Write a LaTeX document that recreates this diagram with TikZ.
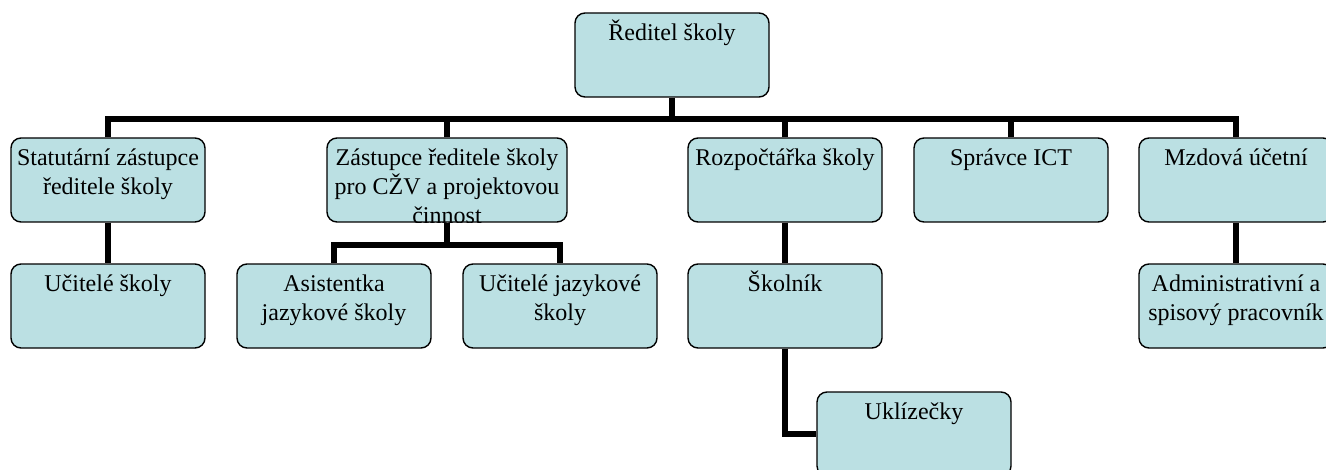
\documentclass[tikz,border=0pt]{standalone}
\usepackage{fontspec}
\setmainfont{Liberation Serif}
\definecolor{boxfill}{RGB}{187,224,227}
\tikzset{
  orgbox/.style={rectangle, draw, line width=0.7pt, fill=boxfill, rounded corners=5pt,
    minimum height=42pt, inner sep=0pt},
  orgtext/.style={anchor=north, inner sep=0pt, yshift=-2pt, align=center,
    font=\fontsize{12}{14.5}\selectfont},
  conn/.style={line width=3pt}
}
\newcommand\orgbox[5][97pt]{%
  \node[orgbox, minimum width=#1] (#2) at (#3,#4) {};
  \begin{scope}
    \clip[rounded corners=5pt] (#2.south west) rectangle (#2.north east);
    \node[orgtext] (#2-t) at (#2.north) {\rule{0pt}{12pt}#5};
  \end{scope}}
\begin{document}
\begin{tikzpicture}[x=0.5pt, y=0.5pt]
	\useasboundingbox (0,0) rectangle (1326,-470);
	\orgbox{top}{672}{-55}{Ředitel školy}
	\orgbox{stat}{108}{-180}{Statutární zástupce\\ředitele školy}
	\orgbox[120pt]{zast}{447}{-180}{Zástupce ředitele školy\\pro CŽV a projektovou\\činnost}
	\orgbox{rozp}{785}{-180}{Rozpočtářka školy}
	\orgbox{sprav}{1011}{-180}{Správce ICT}
	\orgbox{mzd}{1236}{-180}{Mzdová účetní}
	\orgbox{ucit}{108}{-306}{Učitelé školy}
	\orgbox{asist}{334}{-306}{Asistentka\\jazykové školy}
	\orgbox{ucjaz}{560}{-306}{Učitelé jazykové\\školy}
	\orgbox{skol}{785}{-306}{Školník}
	\orgbox{admin}{1236}{-306}{Administrativní a\\spisový pracovník}
	\orgbox{ukliz}{914}{-434}{Uklízečky}
	\coordinate (bus) at (0,-119);
	\coordinate (subbus) at (0,-245);
	\draw[conn] (top.south) -- (top.south |- bus);
	\draw[conn] (stat.north) |- (mzd.north |- bus) -- (mzd.north);
	\foreach \n in {zast,rozp,sprav}
		\draw[conn] (\n.north) -- (\n.north |- bus);
	\draw[conn] (zast.south) -- (zast.south |- subbus);
	\draw[conn] (asist.north) |- (ucjaz.north |- subbus) -- (ucjaz.north);
	\draw[conn] (stat.south) -- (ucit.north);
	\draw[conn] (rozp.south) -- (skol.north);
	\draw[conn] (mzd.south) -- (admin.north);
	\draw[conn] (skol.south) |- (ukliz.west);
\end{tikzpicture}
\end{document}
